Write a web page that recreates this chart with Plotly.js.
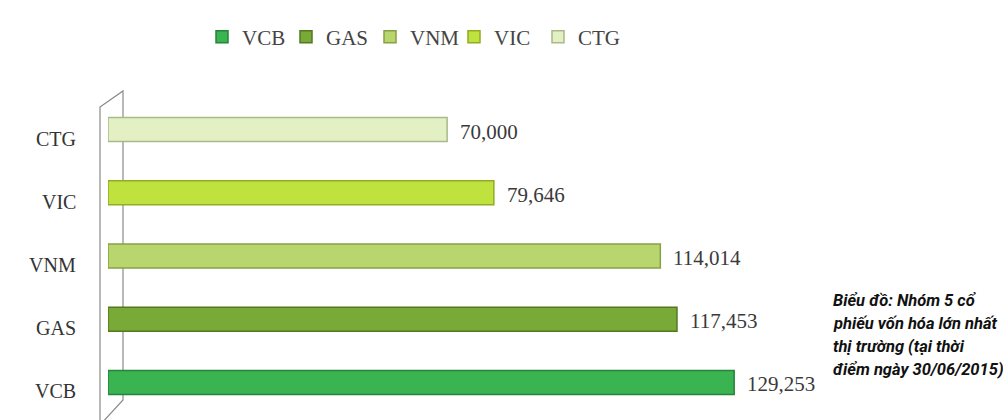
<!DOCTYPE html>
<html>
<head>
<meta charset="utf-8">
<script src="https://cdn.plot.ly/plotly-3.0.1.min.js"></script>
<style>html,body{margin:0;padding:0;background:#fff;}#chart{width:1003px;height:420px;}</style>
</head>
<body>
<div id="chart"></div>
<script>
const categories = ['VCB', 'GAS', 'VNM', 'VIC', 'CTG'];
const values = [129253, 117453, 114014, 79646, 70000];
const colors = ['#3ab351', '#79a936', '#b9d56e', '#c0e23f', '#e3f0c4'];
const edgeColors = ['#25833a', '#55781f', '#86a046', '#8fac22', '#a9b98a'];
const noteLines = ['Biểu đồ: Nhóm 5 cổ', 'phiếu vốn hóa lớn nhất', 'thị trường (tại thời', 'điểm ngày 30/06/2015)'];

const serif = '"Liberation Serif", "Times New Roman", serif';

const traces = categories.map((c, i) => ({
  type: 'bar',
  orientation: 'h',
  name: c,
  y: [c],
  x: [values[i]],
  width: 0.38,
  marker: {color: colors[i], line: {color: edgeColors[i], width: 1.5}},
  hoverinfo: 'x+y'
}));

const annotations = [];
categories.forEach((c, i) => {
  annotations.push({
    xref: 'x', yref: 'y', x: values[i], y: c,
    text: values[i].toLocaleString('en-US'),
    showarrow: false, xanchor: 'left', yanchor: 'middle',
    xshift: 11, yshift: -2,
    font: {family: serif, size: 21, color: '#3a3a3a'}
  });
  annotations.push({
    xref: 'paper', yref: 'y', x: -0.034, y: c,
    text: c,
    showarrow: false, xanchor: 'right', yanchor: 'middle',
    yshift: -9,
    font: {family: serif, size: 20, color: '#333'}
  });
});
const noteTop = 300, noteStep = 23.3;
noteLines.forEach((l, k) => {
  annotations.push({
    xref: 'paper', yref: 'paper', x: (831 - 108) / 872,
    y: 1 - (noteTop + k * noteStep - 98) / 316,
    xanchor: 'left', yanchor: 'middle', align: 'left', showarrow: false,
    text: '<b><i>' + l + '</i></b>',
    font: {family: 'Roboto, "Liberation Sans", sans-serif', size: 16.5, color: '#111'}
  });
});

const layout = {
  width: 1003, height: 420,
  margin: {l: 108, r: 23, t: 98, b: 6},
  paper_bgcolor: '#fff', plot_bgcolor: 'rgba(0,0,0,0)',
  barmode: 'overlay',
  showlegend: true,
  legend: {
    orientation: 'h', x: (202 - 108) / 872, xanchor: 'left',
    y: 1 + (98 - 37) / 316, yanchor: 'middle',
    font: {family: serif, size: 21, color: '#444'},
    entrywidth: 39, entrywidthmode: 'pixels',
    traceorder: 'normal', itemclick: false
  },
  xaxis: {range: [0, 180000], visible: false, fixedrange: true},
  yaxis: {
    type: 'category', categoryorder: 'array', categoryarray: categories,
    range: [-0.5, 4.5], showticklabels: false, showgrid: false, zeroline: false,
    showline: false, ticks: '', fixedrange: true
  },
  shapes: [{
    type: 'path', xref: 'paper', yref: 'paper', layer: 'below',
    path: 'M -0.00917,0.9715 L 0.0172,1.0222 L 0.0172,0.0443 L -0.00917,-0.0348 Z',
    line: {color: '#8a8a8a', width: 1.2}, fillcolor: 'rgba(0,0,0,0)'
  }],
  annotations: annotations
};

Plotly.newPlot('chart', traces, layout, {displayModeBar: false, staticPlot: true});
</script>
</body>
</html>
